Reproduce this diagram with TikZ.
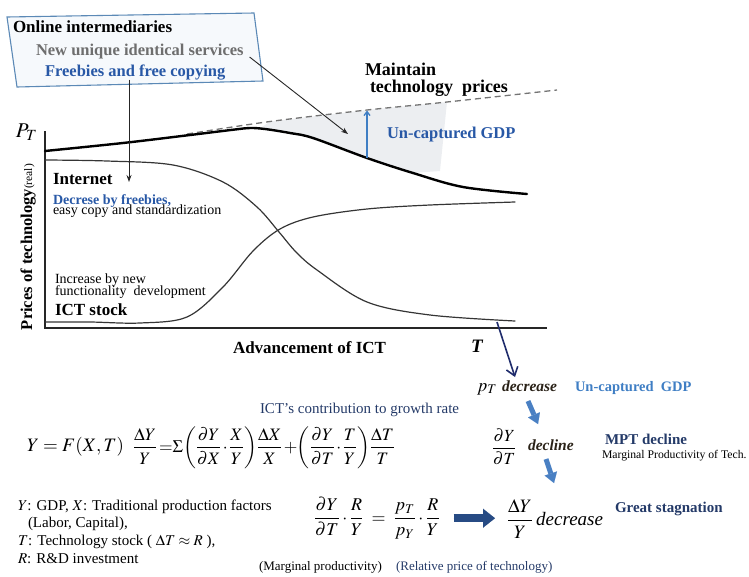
\documentclass[tikz,border=0pt]{standalone}
\usepackage{amsmath}
\usepackage{mathptmx}
\usepackage{fontspec}
\setmainfont{Liberation Serif}
\usetikzlibrary{arrows.meta}

\definecolor{boxedge}{HTML}{5B89B6}
\definecolor{boxfill}{HTML}{F6F9FC}
\definecolor{softgray}{HTML}{6E6E6E}
\definecolor{deepblue}{HTML}{2858A6}
\definecolor{skyblue}{HTML}{3F7EC4}
\definecolor{arrowblue}{HTML}{4A80C3}
\definecolor{navyline}{HTML}{1F2C6C}
\definecolor{navytext}{HTML}{243A68}
\definecolor{inkgray}{HTML}{353535}
\definecolor{gapfill}{HTML}{ECEEF1}
\definecolor{dashgray}{HTML}{747474}
\definecolor{blocknavy}{HTML}{274B84}
\definecolor{warmink}{HTML}{2A2218}

\newcommand\fsz[1]{\fontsize{#1}{#1}\selectfont}

\tikzset{
  lbl/.style={anchor=base west, inner sep=0pt, outer sep=0pt},
  axisline/.style={line width=1.6pt, draw=black!85},
  pricecurve/.style={line width=2.4pt, draw=black, line cap=round},
  thincurve/.style={line width=1.2pt, draw=inkgray, line cap=round},
  trendline/.style={line width=1.3pt, draw=dashgray, dash pattern=on 6pt off 4pt},
  pointer/.style={line width=0.9pt, draw=black!85, -{Stealth[length=7pt,width=5pt]}},
  gaparrow/.style={line width=1.3pt, draw=skyblue, -{Straight Barb[length=4pt,width=6pt]}},
  downarrow/.style={line width=1.6pt, draw=navyline, -{Straight Barb[length=8pt,width=12pt]}},
  fatarrow/.style={line width=5pt, draw=arrowblue, fill=arrowblue,
    -{Triangle[length=10pt,width=13pt,line width=0.01pt]}},
  blockarrow/.style={line width=8pt, draw=blocknavy, fill=blocknavy,
    -{Triangle[length=12pt,width=19pt,line width=0.01pt]}},
}

\begin{document}
\begin{tikzpicture}[x=1pt,y=-1pt]
\useasboundingbox (0,0) rectangle (749,576);

% ---- callout box ----
\coordinate (k1) at (7,17);
\coordinate (k2) at (254,13);
\coordinate (k3) at (263,81);
\coordinate (k4) at (17,87);
\filldraw[fill=boxfill, draw=boxedge, line width=1.1pt] (k1) -- (k2) -- (k3) -- (k4) -- cycle;
\node[lbl, font=\bfseries\fsz{17}] (online) at (13,32) {Online intermediaries};
\node[lbl, font=\bfseries\fsz{16.5}, text=softgray] (services) at (36,55) {New unique identical services};
\node[lbl, font=\bfseries\fsz{16.5}, text=deepblue] (freebies) at (45,76) {Freebies and free copying};

% ---- gap between maintained and actual prices ----
\fill[gapfill] (262,127) -- (270,121.5) -- (367,110) -- (447,102) -- (440,171)
  -- (413,173) -- (367,158) -- (313,138) -- (290,133) -- cycle;
\draw[trendline] plot[smooth] coordinates {(187,134) (270,121.5) (367,110) (447,102) (557,90)};

% ---- axes ----
\coordinate (ytop) at (45,131);
\coordinate (orig) at (45,328);
\coordinate (xend) at (547,328);
\draw[axisline] (ytop) -- (orig) -- (xend);

% ---- curves ----
\draw[pricecurve] plot[smooth, tension=0.55] coordinates {(45,151) (123,143) (190,135)
  (235,129.5) (250,128) (265,129) (290,133) (313,138) (367,158) (413,173) (463,187) (527,194)};
\draw[thincurve] plot[smooth, tension=0.55] coordinates {(45,160) (107,161) (173,165) (223,182)
  (257,207) (279,232) (296,252) (317,270) (367,302) (430,315) (515,321)};
\draw[thincurve] plot[smooth, tension=0.55] coordinates {(45,322) (90,322) (140,323) (187,317)
  (223,287) (253,251) (280,229) (313,217) (367,209) (430,205) (515,202)};

% ---- chart labels ----
\node[lbl, font=\fsz{21}] (ptlab) at (16,137) {$P_T$};
\node[lbl, rotate=90] (ylab) at (32,330) {\bfseries\fsz{16.5}Prices of technology\mdseries\fsz{11.5}(real)};
\node[lbl, font=\bfseries\fsz{17}] (xlab) at (233,353) {Advancement of ICT};
\node[lbl, font=\bfseries\itshape\fsz{19}] (tlab) at (471,352) {T};

\node[lbl, font=\bfseries\fsz{17}] (inet) at (53,184) {Internet};
\node[lbl, font=\bfseries\fsz{14}, text=deepblue] (freedec) at (53,204) {Decrese by freebies,};
\node[lbl, font=\fsz{14}] (easy) at (53,214) {easy copy and standardization};
\node[lbl, font=\fsz{14}] (incr) at (55,283) {Increase by new};
\node[lbl, font=\fsz{14}] (func) at (55,295) {functionality\ \ development};
\node[lbl, font=\bfseries\fsz{17}] (ictst) at (55,315) {ICT stock};

\node[lbl, font=\bfseries\fsz{18}] (maint) at (365,75) {Maintain};
\node[lbl, font=\bfseries\fsz{18}] (techp) at (370,92) {technology\ \ prices};
\node[lbl, font=\bfseries\fsz{16.5}, text=deepblue] (uncap) at (387,138) {Un-captured GDP};

% ---- pointers ----
\coordinate (a1end) at (129,182);
\draw[pointer] (freebies.south -| a1end) -- (a1end);
\coordinate (a2end) at (348,134);
\draw[pointer] ([xshift=6pt,yshift=-6pt]services.east) -- (a2end);
\coordinate (g1) at (367,158);
\coordinate (g2) at (367,110.5);
\draw[gaparrow] (g1) -- (g2);

% ---- causal chain ----
\coordinate (d1) at (497,322);
\coordinate (d2) at (515,377);
\draw[downarrow] (d1) -- (d2);
\node[lbl, font=\fsz{18}] (pT) at (477,391) {$p_T$};
\node[lbl, font=\bfseries\itshape\fsz{15.5}, text=warmink] (dec) at (502,391) {decrease};
\node[lbl, font=\bfseries\fsz{14.5}, text=skyblue] (uncap2) at (575,391) {Un-captured\ \ GDP};

\coordinate (f1s) at (528,401);
\coordinate (f1e) at (538,424);
\draw[fatarrow] (f1s) -- (f1e);
\node[lbl, font=\fsz{17}] (dydt) at (492,453) {$\dfrac{\partial Y}{\partial T}$};
\node[lbl, font=\bfseries\itshape\fsz{15.5}, text=warmink] (dcl) at (528,450) {decline};
\node[lbl, font=\bfseries\fsz{15}, text=navytext] (mpt) at (605,444) {MPT decline};
\node[lbl, font=\fsz{11.7}] (mptx) at (602,458) {Marginal Productivity of Tech.};
\coordinate (f2s) at (546,459);
\coordinate (f2e) at (554,483);
\draw[fatarrow] (f2s) -- (f2e);

% ---- growth accounting ----
\node[lbl, font=\fsz{15}, text=navytext] (contrib) at (260,413) {ICT’s contribution to growth rate};
\node[lbl, font=\fsz{19}] (prodfn) at (27,451) {$Y=F(X,T)$};
\node[lbl, font=\fsz{17.5}] (growth) at (133,452) {$\thickmuskip=2mu\medmuskip=1.5mu
  \dfrac{\Delta Y}{Y}=\!\Sigma\!\left(\dfrac{\partial Y}{\partial X}\cdot\dfrac{X}{Y}\right)\!\dfrac{\Delta X}{X}+\!\left(\dfrac{\partial Y}{\partial T}\cdot\dfrac{T}{Y}\right)\!\dfrac{\Delta T}{T}$};

\node[lbl, font=\fsz{15}] (note1) at (18,510) {$Y$: GDP, $X$: Traditional production factors};
\node[lbl, font=\fsz{15}] (note2) at (28,527) {(Labor, Capital),};
\node[lbl, font=\fsz{15}] (note3) at (18,545) {$T$: Technology stock ( $\Delta T\approx R$ ),};
\node[lbl, font=\fsz{15}] (note4) at (18,563) {$R$: R\&D investment};

\node[lbl, font=\fsz{18}] (mpeq) at (314,523) {$\dfrac{\partial Y}{\partial T}\cdot\dfrac{R}{Y}\;=\;\dfrac{p_T}{p_Y}\cdot\dfrac{R}{Y}$};
\node[lbl, font=\fsz{19}] (result) at (507,525) {$\dfrac{\Delta Y}{Y}$\,\textit{decrease}};
\draw[blockarrow] ([xshift=14pt]mpeq.east) -- ([xshift=-12pt]mpeq.east -| result.west);
\node[lbl, font=\bfseries\fsz{15}, text=navytext] (stag) at (615,512) {Great stagnation};
\node[lbl, font=\fsz{13}] (mprod) at (259,570) {(Marginal productivity)};
\node[lbl, font=\fsz{13}, text=navytext] (relp) at (396,570) {(Relative price of technology)};
\end{tikzpicture}
\end{document}
